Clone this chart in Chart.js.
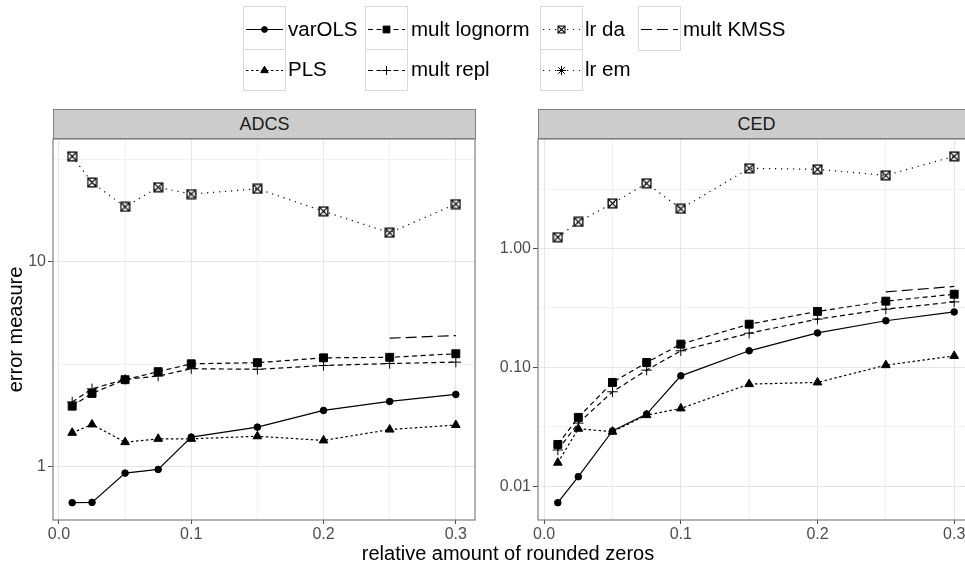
<!DOCTYPE html>
<html>
<head>
<meta charset="utf-8">
<script src="https://cdn.jsdelivr.net/npm/chart.js@4/dist/chart.umd.min.js"></script>
<style>
html, body { margin:0; padding:0; width:965px; height:565px; overflow:hidden; background:#fff;
  font-family:"Liberation Sans", Arial, Helvetica, sans-serif; }
canvas { position:absolute; top:0; }
.strip { position:absolute; top:109px; height:30px; box-sizing:border-box; border:1px solid #7f7f7f;
  background:#cccccc; color:#1a1a1a; font-size:18px; line-height:28px; text-align:center; }
.key { position:absolute; box-sizing:border-box; border:1px solid #d9d9d9; background:#fff; }
.key canvas { position:absolute; left:0; top:0; }
.ltext { position:absolute; font-size:20.5px; line-height:20.5px; color:#000; white-space:nowrap; }
.xtitle { position:absolute; left:208px; width:600px; top:543px; font-size:20px; line-height:20px; text-align:center; color:#000; }
</style>
</head>
<body>
<canvas id="cADCS"></canvas>
<canvas id="cCED"></canvas>
<div class="strip" style="left:53px;width:423px;">ADCS</div>
<div class="strip" style="left:538px;width:437px;">CED</div>
<div class="xtitle">relative amount of rounded zeros</div>
<div id="legend"></div>
<script>
// ---------------- data ----------------
const xLevels = [0.01, 0.025, 0.05, 0.075, 0.1, 0.15, 0.2, 0.25, 0.3];
const seriesNames = ['varOLS', 'PLS', 'mult lognorm', 'mult repl', 'lr da', 'lr em', 'mult KMSS'];
const panelNames = ['ADCS', 'CED'];

// ADCS panel
const adcsVarOLS      = [0.662, 0.664, 0.924, 0.963, 1.386, 1.552, 1.873, 2.073, 2.244];
const adcsPLS         = [1.456, 1.600, 1.310, 1.360, 1.360, 1.400, 1.336, 1.510, 1.590];
const adcsMultLognorm = [1.966, 2.270, 2.650, 2.900, 3.170, 3.210, 3.390, 3.410, 3.550];
const adcsMultRepl    = [2.060, 2.390, 2.660, 2.760, 3.000, 2.980, 3.110, 3.180, 3.230];
const adcsLrDa        = [32.9, 24.5, 18.6, 23.2, 21.5, 22.8, 17.7, 13.9, 19.2];
const adcsLrEm        = [null, null, null, null, null, null, null, null, null];
const adcsMultKMSS    = [null, null, null, null, null, null, null, 4.23, 4.36];

// CED panel
const cedVarOLS       = [0.00728, 0.01205, 0.0292, 0.0405, 0.0850, 0.138, 0.195, 0.247, 0.293];
const cedPLS          = [0.0158, 0.0305, 0.0288, 0.0397, 0.0452, 0.0724, 0.0748, 0.1045, 0.125];
const cedMultLognorm  = [0.0225, 0.0380, 0.0748, 0.110, 0.157, 0.231, 0.296, 0.361, 0.413];
const cedMultRepl     = [0.0202, 0.0340, 0.0624, 0.0949, 0.138, 0.194, 0.255, 0.309, 0.356];
const cedLrDa         = [1.245, 1.675, 2.40, 3.54, 2.16, 4.73, 4.64, 4.13, 5.97];
const cedLrEm         = [null, null, null, null, null, null, null, null, null];
const cedMultKMSS     = [null, null, null, null, null, null, null, 0.432, 0.480];

// ticks
const xTickValues   = [0, 0.05, 0.1, 0.15, 0.2, 0.25, 0.3];
const xTickLabels   = ['0.0', '', '0.1', '', '0.2', '', '0.3'];
const adcsYTicks    = [Math.pow(10, -0.5), 1, Math.pow(10, 0.5), 10, Math.pow(10, 1.5)];
const adcsYLabels   = ['', '1', '', '10', ''];
const cedYTicks     = [Math.pow(10, -2.5), 0.01, Math.pow(10, -1.5), 0.1, Math.pow(10, -0.5), 1, Math.pow(10, 0.5)];
const cedYLabels    = ['', '0.01', '', '0.10', '', '1.00', ''];

// ---------------- styles ----------------
const FONT = '"Liberation Sans", Arial, Helvetica, sans-serif';
Chart.defaults.font.family = FONT;

function squareCross(size, lw) {
  const s = 4;
  const c = document.createElement('canvas');
  c.width = size; c.height = size;
  const g = c.getContext('2d');
  g.strokeStyle = '#000'; g.lineWidth = lw;
  const o = 0.5 + lw / 2;
  g.strokeRect(o, o, size - 2 * o, size - 2 * o);
  g.beginPath();
  g.moveTo(o, o); g.lineTo(size - o, size - o);
  g.moveTo(size - o, o); g.lineTo(o, size - o);
  g.stroke();
  return c;
}
const sqCrossBig = squareCross(11, 1.3);
const sqCrossSmall = squareCross(9, 1.1);

const styles = {
  'varOLS':       { dash: [],          point: 'circle',   r: 3.3, key: 2.9 },
  'PLS':          { dash: [2.5, 2.5],  point: 'triangle', r: 5.0, key: 4.3 },
  'mult lognorm': { dash: [5, 3.5],    point: 'rect',     r: 5.6, key: 4.8 },
  'mult repl':    { dash: [5, 3.5],    point: 'cross',    r: 5.2, key: 4.6 },
  'lr da':        { dash: [1.2, 4.8],  point: 'sqx',      r: 5,   key: 4 },
  'lr em':        { dash: [1.2, 4.8],  point: 'star',     r: 5,   key: 4.6 },
  'mult KMSS':    { dash: [11, 5],     point: false,      r: 0,   key: 0 }
};

function buildDatasets(arrays) {
  return seriesNames.map((name, si) => {
    const st = styles[name];
    const vals = arrays[si];
    const ps = st.point === 'sqx' ? sqCrossBig : (st.point || 'circle');
    return {
      label: name,
      data: xLevels.map((x, i) => ({ x: x, y: vals[i] })),
      borderColor: '#000',
      backgroundColor: '#000',
      borderWidth: 1.2,
      borderDash: st.dash,
      tension: 0,
      fill: false,
      spanGaps: false,
      pointStyle: ps,
      pointRadius: st.point ? st.r : 0,
      pointBorderWidth: 1,
      pointBackgroundColor: '#000',
      pointBorderColor: '#000',
      pointHoverRadius: st.point ? st.r : 0
    };
  });
}

function logRange(arrays) {
  let lo = Infinity, hi = -Infinity;
  arrays.forEach(a => a.forEach(v => { if (v != null) { const l = Math.log10(v); lo = Math.min(lo, l); hi = Math.max(hi, l); } }));
  const e = (hi - lo) * 0.05;
  return [Math.pow(10, lo - e), Math.pow(10, hi + e)];
}
const xMin = xLevels[0] - (xLevels[xLevels.length - 1] - xLevels[0]) * 0.05;
const xMax = xLevels[xLevels.length - 1] + (xLevels[xLevels.length - 1] - xLevels[0]) * 0.05;

const panelBorder = {
  id: 'panelBorder',
  afterDraw(chart) {
    const a = chart.chartArea, ctx = chart.ctx;
    ctx.save();
    ctx.strokeStyle = '#7f7f7f';
    ctx.lineWidth = 1.2;
    ctx.strokeRect(a.left, a.top, a.right - a.left, a.bottom - a.top);
    ctx.restore();
  }
};

function near(a, b) { return Math.abs(a - b) < 1e-9 * Math.max(1, Math.abs(b)); }

function makePanel(id, canvasLeft, canvasWidth, areaLeft, areaRight, arrays, yTicks, yLabels, showTitle) {
  const cv = document.getElementById(id);
  cv.width = canvasWidth; cv.height = 565;
  cv.style.left = canvasLeft + 'px';
  cv.style.width = canvasWidth + 'px'; cv.style.height = '565px';
  const [yMin, yMax] = logRange(arrays);
  const top = 139, bottom = 520, xAxisH = 30;
  const yAxisW = areaLeft - canvasLeft;
  const labelOf = (vals, labs, v) => { const i = vals.findIndex(t => near(t, v)); return i >= 0 ? labs[i] : ''; };
  const isMajor = (vals, labs, v) => labelOf(vals, labs, v) !== '';
  return new Chart(cv, {
    type: 'line',
    data: { datasets: buildDatasets(arrays) },
    options: {
      responsive: false,
      maintainAspectRatio: false,
      devicePixelRatio: 1,
      animation: false,
      events: [],
      layout: { padding: { left: 0, top: top, right: canvasLeft + canvasWidth - areaRight, bottom: 565 - bottom - xAxisH } },
      plugins: { legend: { display: false }, tooltip: { enabled: false }, title: { display: false } },
      scales: {
        x: {
          type: 'linear', min: xMin, max: xMax, bounds: 'data',
          afterBuildTicks: s => { s.ticks = xTickValues.map(v => ({ value: v })); },
          afterFit: s => { s.height = xAxisH; },
          ticks: {
            autoSkip: false, maxRotation: 0, minRotation: 0, padding: 1,
            font: { size: 16, family: FONT }, color: '#4d4d4d',
            callback: v => labelOf(xTickValues, xTickLabels, v)
          },
          grid: {
            drawOnChartArea: true, drawTicks: true, tickLength: 4, lineWidth: 1,
            color: c => isMajor(xTickValues, xTickLabels, c.tick.value) ? '#e6e6e6' : '#f2f2f2',
            tickColor: c => isMajor(xTickValues, xTickLabels, c.tick.value) ? '#4d4d4d' : 'rgba(0,0,0,0)'
          },
          border: { display: false }
        },
        y: {
          type: 'logarithmic', min: yMin, max: yMax, bounds: 'data',
          afterBuildTicks: s => { s.ticks = yTicks.filter(v => v >= yMin && v <= yMax).map(v => ({ value: v })); },
          afterFit: s => { s.width = yAxisW; },
          ticks: {
            autoSkip: false, padding: 2,
            font: { size: 16, family: FONT }, color: '#4d4d4d',
            callback: v => labelOf(yTicks, yLabels, v)
          },
          grid: {
            drawOnChartArea: true, drawTicks: true, tickLength: 5, lineWidth: 1,
            color: c => isMajor(yTicks, yLabels, c.tick.value) ? '#e6e6e6' : '#f2f2f2',
            tickColor: c => isMajor(yTicks, yLabels, c.tick.value) ? '#4d4d4d' : 'rgba(0,0,0,0)'
          },
          border: { display: false },
          title: {
            display: showTitle, text: 'error measure', color: '#000',
            font: { size: 20, family: FONT }, padding: { top: 4, bottom: 0 }
          }
        }
      }
    },
    plugins: [panelBorder]
  });
}

makePanel('cADCS', 0, 485, 53, 475,
  [adcsVarOLS, adcsPLS, adcsMultLognorm, adcsMultRepl, adcsLrDa, adcsLrEm, adcsMultKMSS],
  adcsYTicks, adcsYLabels, true);
makePanel('cCED', 480, 505, 538, 974,
  [cedVarOLS, cedPLS, cedMultLognorm, cedMultRepl, cedLrDa, cedLrEm, cedMultKMSS],
  cedYTicks, cedYLabels, false);

// ---------------- legend (HTML keys) ----------------
function drawMarker(g, style, x, y, r) {
  g.save();
  g.fillStyle = '#000'; g.strokeStyle = '#000'; g.lineWidth = 1; g.setLineDash([]);
  g.beginPath();
  if (style === 'circle') { g.arc(x, y, r, 0, Math.PI * 2); g.fill(); g.stroke(); }
  else if (style === 'rect') { const h = r * Math.SQRT1_2; g.rect(x - h, y - h, 2 * h, 2 * h); g.fill(); g.stroke(); }
  else if (style === 'triangle') {
    for (let k = 0; k < 3; k++) { const a = k * 2 * Math.PI / 3; const px = x + Math.sin(a) * r, py = y - Math.cos(a) * r; if (k) g.lineTo(px, py); else g.moveTo(px, py); }
    g.closePath(); g.fill(); g.stroke();
  }
  else if (style === 'cross') { g.moveTo(x - r, y); g.lineTo(x + r, y); g.moveTo(x, y - r); g.lineTo(x, y + r); g.stroke(); }
  else if (style === 'star') {
    const d = r * Math.SQRT1_2;
    g.moveTo(x - r, y); g.lineTo(x + r, y); g.moveTo(x, y - r); g.lineTo(x, y + r);
    g.moveTo(x - d, y - d); g.lineTo(x + d, y + d); g.moveTo(x + d, y - d); g.lineTo(x - d, y + d); g.stroke();
  }
  else if (style === 'sqx') { g.drawImage(sqCrossSmall, Math.round(x - sqCrossSmall.width / 2), Math.round(y - sqCrossSmall.height / 2)); }
  g.restore();
}

const legendCols = [243, 365, 540, 638];
const legendTextX = [288, 411, 585, 683];
const legendRows = [6, 49];
const legendRowH = [44, 42];
const legendTextTop = [18.7, 58.7];
const legendEl = document.getElementById('legend');
seriesNames.forEach((name, i) => {
  const col = Math.floor(i / 2), row = i % 2;
  const st = styles[name];
  const key = document.createElement('div');
  key.className = 'key';
  const w = 43, h = legendRowH[row] + (row === 0 ? 1 : 0);
  key.style.left = legendCols[col] + 'px';
  key.style.top = legendRows[row] + 'px';
  key.style.width = w + 'px';
  key.style.height = h + 'px';
  const c = document.createElement('canvas');
  c.width = w - 2; c.height = h - 2;
  key.appendChild(c);
  legendEl.appendChild(key);
  const g = c.getContext('2d');
  const cy = Math.round((h - 2) / 2) + 0.5;
  g.strokeStyle = '#000'; g.lineWidth = 1.2; g.setLineDash(st.dash);
  g.beginPath(); g.moveTo(2, cy); g.lineTo(w - 4, cy); g.stroke();
  if (st.point) drawMarker(g, st.point, (w - 2) / 2, cy, st.key);
  const t = document.createElement('div');
  t.className = 'ltext';
  t.style.left = legendTextX[col] + 'px';
  t.style.top = legendTextTop[row] + 'px';
  t.textContent = name;
  legendEl.appendChild(t);
});
</script>
</body>
</html>
